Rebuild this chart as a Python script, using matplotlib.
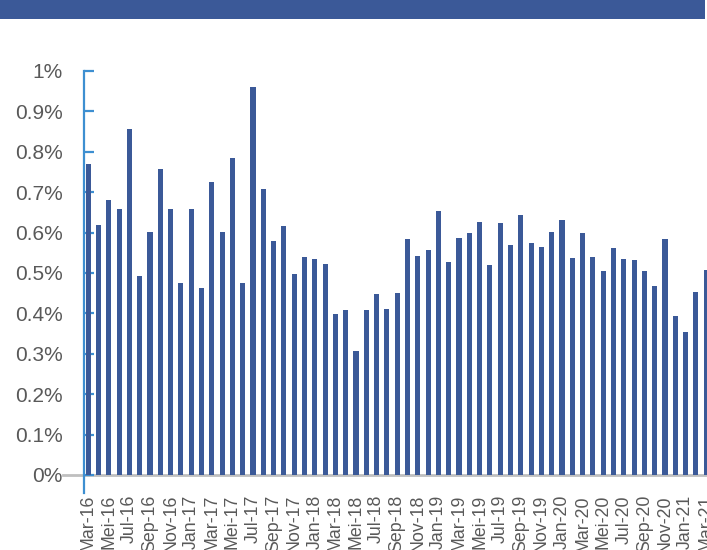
import numpy as np
import matplotlib.pyplot as plt
from matplotlib.patches import Rectangle

# monthly ratio, Mar-16 .. Mar-21 (percent)
months = ['Mar', 'Apr', 'Mei', 'Jun', 'Jul', 'Agu', 'Sep', 'Okt', 'Nov', 'Des', 'Jan', 'Feb']
start_year = 16
n_months = 61

values = [
	0.770, 0.620, 0.680, 0.658, 0.856, 0.493, 0.601, 0.757, 0.658, 0.476,
	0.658, 0.464, 0.724, 0.601, 0.785, 0.475, 0.960, 0.707, 0.578, 0.616,
	0.497, 0.540, 0.534, 0.522, 0.398, 0.408, 0.307, 0.408, 0.449, 0.412,
	0.450, 0.584, 0.542, 0.557, 0.653, 0.527, 0.587, 0.599, 0.625, 0.519,
	0.623, 0.569, 0.644, 0.575, 0.564, 0.601, 0.632, 0.538, 0.598, 0.539,
	0.506, 0.563, 0.535, 0.531, 0.504, 0.468, 0.585, 0.394, 0.355, 0.453,
	0.507,
]

yticks = [0.0, 0.1, 0.2, 0.3, 0.4, 0.5, 0.6, 0.7, 0.8, 0.9, 1.0]
ytick_labels = ['0%', '0.1%', '0.2%', '0.3%', '0.4%', '0.5%', '0.6%', '0.7%', '0.8%', '0.9%', '1%']

# build month labels (Jan starts new year)
labels = []
year = start_year
for i in range(n_months):
	m = months[i % 12]
	if m == 'Jan':
		year += 1
	labels.append('%s-%d' % (m, year))

bar_col = '#3b5998'
axis_blue = '#3d8fd1'
txt_col = '#595959'

fig = plt.figure(figsize=(7.07, 5.5), dpi=100)

# banner across the top
fig.patches.append(Rectangle((0, 1 - 19/550), 705/707, 19/550, transform=fig.transFigure,
	facecolor=bar_col, edgecolor='none'))

ax = fig.add_axes([84/707, 1 - 493/550, 627.35/707, (493 - 71)/550])

x = np.arange(n_months)
ax.bar(x, values, width=0.5, color=bar_col, zorder=2)

ax.set_xlim(-0.408, 60.5)
ax.set_ylim(-0.0446, 1.0)

for s in ['top', 'right', 'bottom']:
	ax.spines[s].set_visible(False)
ax.spines['left'].set_color(axis_blue)
ax.spines['left'].set_linewidth(1.6)

ax.set_yticks(yticks)
ax.set_yticklabels(ytick_labels, fontsize=15, color=txt_col, family='Liberation Sans')
ax.tick_params(axis='y', direction='in', length=7, width=1.6, color=axis_blue, pad=15.5)

ax.set_xticks(x[::2])
ax.set_xticklabels(labels[::2], rotation=90, fontsize=12.8, color=txt_col,
	family='Liberation Sans', ha='center', va='top')
ax.tick_params(axis='x', length=0, pad=1.5)

# zero line, running a little past the value axis on the left
ax.plot([-0.034, 1], [0, 0], transform=ax.get_yaxis_transform(), color='#bfbfbf',
	lw=2, clip_on=False, zorder=1)

fig.savefig('out.png', dpi=100)
